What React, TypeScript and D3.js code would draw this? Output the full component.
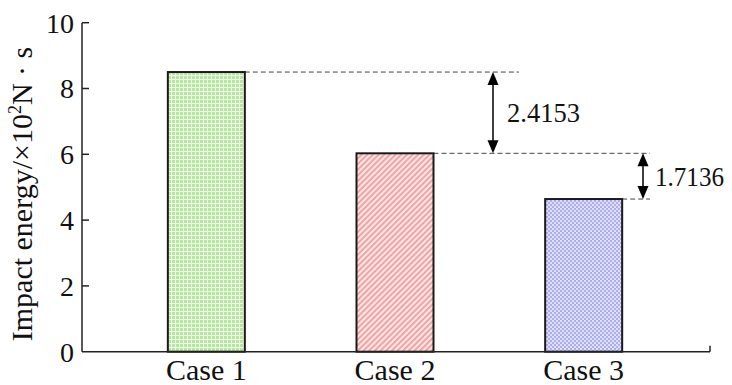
import React from "react";
import * as d3 from "d3";

// Impact energy for each loading case (×10² N·s)
const categories = ["Case 1", "Case 2", "Case 3"];
const energyValues = [8.5, 6.03, 4.64];
const yTicks = [0, 2, 4, 6, 8, 10];
// Reduction between consecutive cases, as annotated
const gapLabels = ["2.4153", "1.7136"];
const patternIds = ["pat-green", "pat-red", "pat-blue"];

const W = 732;
const H = 385;
const FONT = "'Liberation Serif', 'Times New Roman', serif";

export default function App() {
  const x0 = 82;
  const x1 = 710;
  const y = d3.scaleLinear().domain([0, 10]).range([351.7, 22.7]);
  const x = d3.scaleBand<string>().domain(categories).range([112, 678]).paddingInner(0);
  const barW = 77;

  const barLeft = (i: number) => (x(categories[i]) as number) + x.bandwidth() / 2 - barW / 2;
  const barRight = (i: number) => barLeft(i) + barW;

  // annotation arrow positions (between neighbouring bar tops)
  const arrows = [
    { from: 0, to: 1, ax: 493, gap: 14, len: 73, label: gapLabels[0] },
    { from: 1, to: 2, ax: 643, gap: 12, len: 69, label: gapLabels[1] },
  ];

  return (
    <svg width={W} height={H} style={{ position: "absolute", left: 0, top: 0, background: "#fff" }}>
      <defs>
        <pattern id="pat-green" width="4" height="4" patternUnits="userSpaceOnUse">
          <rect width="4" height="4" fill="#b5e89e" />
          <rect x="3" y="0" width="1" height="4" fill="#eefbe8" />
          <rect x="0" y="3" width="4" height="1" fill="#eefbe8" />
        </pattern>
        <pattern id="pat-red" width="4" height="4" patternUnits="userSpaceOnUse" patternTransform="rotate(45)">
          <rect width="4" height="4" fill="#fde8e8" />
          <rect x="0" y="0" width="2" height="4" fill="#f4a2a2" />
        </pattern>
        <pattern id="pat-blue" width="4" height="4" patternUnits="userSpaceOnUse">
          <rect width="4" height="4" fill="#adadf3" />
          <rect x="0" y="0" width="2" height="2" fill="#e0e0fc" />
          <rect x="2" y="2" width="2" height="2" fill="#e0e0fc" />
        </pattern>
      </defs>

      {/* dashed guide lines from bar tops */}
      <line x1={barRight(0)} x2={519} y1={y(energyValues[0])} y2={y(energyValues[0])} stroke="#444" strokeWidth={1} strokeDasharray="5,3" />
      <line x1={barRight(1)} x2={650} y1={y(energyValues[1])} y2={y(energyValues[1])} stroke="#444" strokeWidth={1} strokeDasharray="5,3" />
      <line x1={barRight(2)} x2={650} y1={y(energyValues[2])} y2={y(energyValues[2])} stroke="#444" strokeWidth={1} strokeDasharray="5,3" />

      {/* bars */}
      {energyValues.map((v, i) => (
        <rect key={categories[i]} x={barLeft(i)} y={y(v)} width={barW} height={y(0) - y(v)}
          fill={`url(#${patternIds[i]})`} stroke="#1a1a1a" strokeWidth={2} />
      ))}

      {/* double-headed arrows with gap labels */}
      {arrows.map((a, k) => {
        const yt = y(energyValues[a.from]);
        const yb = y(energyValues[a.to]);
        const hw = 5.5;
        const hh = 13;
        const mid = (yt + yb) / 2;
        return (
          <g key={"a" + k}>
            <line x1={a.ax} x2={a.ax} y1={yt + hh - 1} y2={yb - hh + 1} stroke="#000" strokeWidth={1.5} />
            <path d={`M${a.ax},${yt} L${a.ax - hw},${yt + hh} L${a.ax + hw},${yt + hh} Z`} fill="#000" />
            <path d={`M${a.ax},${yb} L${a.ax - hw},${yb - hh} L${a.ax + hw},${yb - hh} Z`} fill="#000" />
            <text x={a.ax + a.gap} y={mid} dy="0.35em" fontFamily={FONT} fontSize={28} fill="#111"
              textLength={a.len} lengthAdjust="spacingAndGlyphs">{a.label}</text>
          </g>
        );
      })}

      {/* axes */}
      <line x1={x0} x2={x0} y1={y(10)} y2={y(0)} stroke="#222" strokeWidth={1.5} />
      <line x1={x0} x2={x1} y1={y(0)} y2={y(0)} stroke="#222" strokeWidth={1.5} />
      <line x1={x1} x2={x1} y1={y(0)} y2={y(0) - 6} stroke="#222" strokeWidth={1.5} />
      {yTicks.map((t) => (
        <g key={t}>
          {t > 0 && <line x1={x0} x2={x0 + 7} y1={y(t)} y2={y(t)} stroke="#222" strokeWidth={1.5} />}
          <text x={74} y={y(t)} dy="0.35em" textAnchor="end" fontFamily={FONT} fontSize={28} fill="#111">{t}</text>
        </g>
      ))}
      {categories.map((c) => (
        <text key={c} x={(x(c) as number) + x.bandwidth() / 2} y={380} textAnchor="middle" fontFamily={FONT} fontSize={30} fill="#111">{c}</text>
      ))}

      {/* y-axis title */}
      <text transform={`translate(32,194) rotate(-90)`} textAnchor="middle" fontFamily={FONT} fontSize={30} fill="#111">
        Impact energy/×10<tspan dy="-11" fontSize={18}>2</tspan><tspan dy="11">N</tspan> · s
      </text>
    </svg>
  );
}
